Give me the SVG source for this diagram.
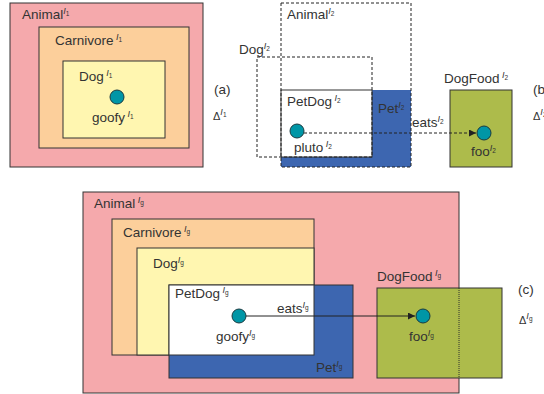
<svg xmlns="http://www.w3.org/2000/svg" width="544" height="394" viewBox="0 0 544 394">
<defs>
<style>
text{font-family:"Liberation Sans",Arial,sans-serif;font-size:13.5px;fill:#333}
.sup{font-size:9px;font-style:italic}
.sub{font-size:6.5px}
.box{stroke:#333;stroke-width:1}
.dash{fill:none;stroke:#222;stroke-width:1;stroke-dasharray:3,2}
.pink{fill:#f5a9ac}.orange{fill:#fccf9b}.yellow{fill:#fff6b0}.blue{fill:#3d66b0}.white{fill:#fff}.olive{fill:#adbb4b}
.dot{fill:#0096a6;stroke:#1a3a40;stroke-width:1}
.small{font-size:11px}
</style>
<marker id="ah" viewBox="0 0 10 10" refX="10" refY="5" markerWidth="7" markerHeight="7" orient="auto" markerUnits="userSpaceOnUse"><path d="M0,0L10,5L0,10z" fill="#222"/></marker>
</defs>

<!-- (a) -->
<g id="a-Animal"><rect class="box pink" x="10" y="3" width="193" height="164"/><text x="22" y="19">Animal<tspan class="sup" dy="-5">I</tspan><tspan class="sub" dy="2">1</tspan></text></g>
<g id="a-Carnivore"><rect class="box orange" x="39" y="27" width="150" height="121"/><text x="55" y="45">Carnivore<tspan class="sup" dy="-5"> I</tspan><tspan class="sub" dy="2">1</tspan></text></g>
<g id="a-Dog"><rect class="box yellow" x="63" y="61" width="102" height="77"/><text x="79" y="81">Dog<tspan class="sup" dy="-5"> I</tspan><tspan class="sub" dy="2">1</tspan></text></g>
<g id="a-goofy"><circle class="dot" cx="117" cy="97" r="7"/><text x="92" y="122">goofy<tspan class="sup" dy="-5"> I</tspan><tspan class="sub" dy="2">1</tspan></text></g>
<g id="a-label"><text x="214" y="94">(a)</text><text class="small" x="213" y="120">Δ<tspan class="sup" dy="-5">I</tspan><tspan class="sub" dy="2">1</tspan></text></g>

<!-- (b) -->
<g id="b-Pet"><rect class="blue" x="281" y="90" width="130" height="77"/><text x="378" y="113">Pet<tspan class="sup" dy="-5">I</tspan><tspan class="sub" dy="2">2</tspan></text></g>
<g id="b-PetDog"><rect class="box white" x="281" y="90" width="91" height="67"/><text x="287" y="106">PetDog<tspan class="sup" dy="-5"> I</tspan><tspan class="sub" dy="2">2</tspan></text></g>
<g id="b-Animal"><rect class="dash" x="281" y="3" width="130" height="164"/><text x="287" y="19">Animal<tspan class="sup" dy="-5">I</tspan><tspan class="sub" dy="2">2</tspan></text></g>
<g id="b-Dog"><rect class="dash" x="257" y="57" width="115" height="100"/><text x="239" y="54">Dog<tspan class="sup" dy="-5">I</tspan><tspan class="sub" dy="2">2</tspan></text></g>
<g id="b-DogFood"><rect class="box olive" x="450" y="90" width="62" height="77"/><text x="444" y="83">DogFood<tspan class="sup" dy="-5"> I</tspan><tspan class="sub" dy="2">2</tspan></text></g>
<g id="b-pluto"><circle class="dot" cx="297" cy="131" r="7"/><text x="294" y="152">pluto<tspan class="sup" dy="-5"> I</tspan><tspan class="sub" dy="2">2</tspan></text></g>
<g id="b-foo"><circle class="dot" cx="484" cy="133" r="7"/><text x="471" y="156">foo<tspan class="sup" dy="-5">I</tspan><tspan class="sub" dy="2">2</tspan></text></g>
<g id="b-label"><text x="533" y="94">(b)</text><text class="small" x="533" y="120">Δ<tspan class="sup" dy="-5">I</tspan><tspan class="sub" dy="2">2</tspan></text></g>

<!-- (c) -->
<g id="c-Animal"><rect class="box pink" x="83" y="192" width="376" height="201"/><text x="94" y="208">Animal<tspan class="sup" dy="-5"> I</tspan><tspan class="sub" dy="2">g</tspan></text></g>
<g id="c-Carnivore"><rect class="box orange" x="112" y="219" width="202" height="136"/><text x="123" y="237">Carnivore<tspan class="sup" dy="-5"> I</tspan><tspan class="sub" dy="2">g</tspan></text></g>
<g id="c-Dog"><rect class="box yellow" x="137" y="248" width="177" height="107"/><text x="153" y="268">Dog<tspan class="sup" dy="-5">I</tspan><tspan class="sub" dy="2">g</tspan></text></g>
<g id="c-Pet"><rect class="box blue" x="169" y="285" width="184" height="93"/><text x="316" y="372">Pet<tspan class="sup" dy="-5">I</tspan><tspan class="sub" dy="2">g</tspan></text></g>
<g id="c-PetDog"><rect class="box white" x="169" y="285" width="145" height="70"/><text x="175" y="298">PetDog<tspan class="sup" dy="-5"> I</tspan><tspan class="sub" dy="2">g</tspan></text></g>
<g id="c-DogFood"><rect class="box olive" x="377" y="288" width="125" height="90"/><line x1="459" y1="288" x2="459" y2="378" stroke="#333" stroke-width="1" stroke-dasharray="1,1"/><text x="377" y="281">DogFood<tspan class="sup" dy="-5"> I</tspan><tspan class="sub" dy="2">g</tspan></text></g>
<g id="c-goofy"><circle class="dot" cx="239" cy="316" r="7"/><text x="216" y="341">goofy<tspan class="sup" dy="-5">I</tspan><tspan class="sub" dy="2">g</tspan></text></g>
<g id="c-foo"><circle class="dot" cx="423" cy="316" r="7"/><text x="409" y="341">foo<tspan class="sup" dy="-5">I</tspan><tspan class="sub" dy="2">g</tspan></text></g>
<g id="c-label"><text x="518" y="294">(c)</text><text class="small" x="519" y="324">Δ<tspan class="sup" dy="-5">I</tspan><tspan class="sub" dy="2">g</tspan></text></g>

<g id="connectors">
<line x1="304" y1="133" x2="476" y2="133" stroke="#222" stroke-width="1" stroke-dasharray="3,2" marker-end="url(#ah)"/>
<text x="412" y="127">eats<tspan class="sup" dy="-5">I</tspan><tspan class="sub" dy="2">2</tspan></text>
<line x1="246" y1="316" x2="415" y2="316" stroke="#222" stroke-width="1" marker-end="url(#ah)"/>
<text x="277" y="313">eats<tspan class="sup" dy="-5">I</tspan><tspan class="sub" dy="2">g</tspan></text>
</g>
</svg>
